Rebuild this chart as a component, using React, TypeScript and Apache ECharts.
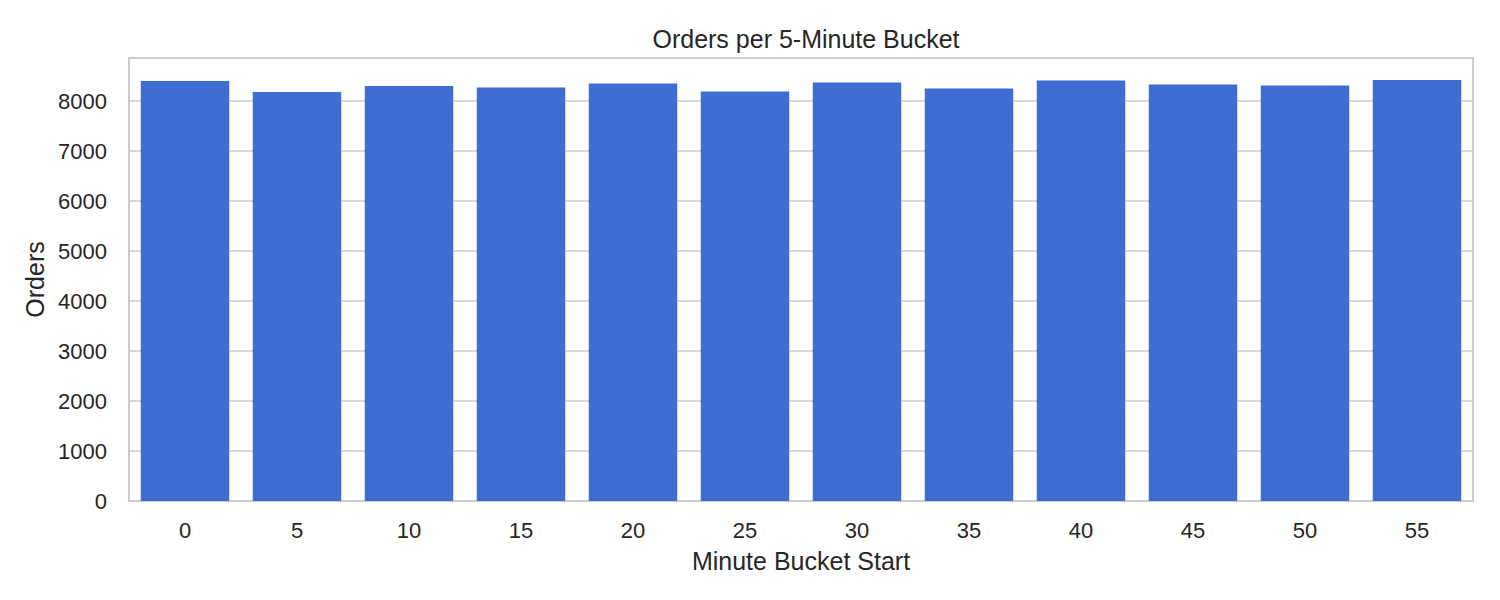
import React, { useEffect, useRef } from "react";
import * as echarts from "echarts";

const categories = ["0", "5", "10", "15", "20", "25", "30", "35", "40", "45", "50", "55"];
const orders = [8400, 8180, 8300, 8270, 8350, 8190, 8370, 8250, 8410, 8330, 8310, 8420];
const yTicks = [0, 1000, 2000, 3000, 4000, 5000, 6000, 7000, 8000];

const FONT = "'Liberation Sans', Arial, sans-serif";

export default function App() {
  const ref = useRef<HTMLDivElement>(null);
  useEffect(() => {
    if (!ref.current) return;
    const chart = echarts.init(ref.current, undefined, { renderer: "svg" });
    chart.setOption({
      animation: false,
      backgroundColor: "#ffffff",
      title: {
        text: "Orders per 5-Minute Bucket",
        left: 801,
        top: 21,
        textAlign: "center",
        textStyle: { fontFamily: FONT, fontSize: 25, fontWeight: "normal", color: "#262626" },
      },
      grid: {
        left: 129,
        right: 27,
        top: 58,
        bottom: 99,
        show: true,
        borderColor: "#cccccc",
        borderWidth: 2,
        backgroundColor: "transparent",
      },
      xAxis: {
        type: "category",
        data: categories,
        name: "Minute Bucket Start",
        nameLocation: "middle",
        nameGap: 47,
        nameTextStyle: { fontFamily: FONT, fontSize: 25, color: "#262626" },
        axisLine: { show: true, lineStyle: { color: "#cccccc", width: 2 } },
        axisTick: { show: false },
        axisLabel: { fontFamily: FONT, fontSize: 22, color: "#262626", margin: 18 },
        splitLine: { show: false },
      },
      yAxis: {
        type: "value",
        min: 0,
        max: 8860,
        interval: 1000,
        name: "Orders",
        nameLocation: "middle",
        nameGap: 80,
        nameTextStyle: { fontFamily: FONT, fontSize: 25, color: "#262626" },
        axisLine: { show: true, lineStyle: { color: "#cccccc", width: 2 } },
        axisTick: { show: false },
        axisLabel: {
          fontFamily: FONT,
          fontSize: 22,
          color: "#262626",
          margin: 22,
          formatter: (v: number) => (yTicks.includes(v) ? String(v) : ""),
        },
        splitLine: { show: true, lineStyle: { color: "#cccccc", width: 1.5 } },
      },
      series: [
        {
          type: "bar",
          data: orders,
          barCategoryGap: "21%",
          itemStyle: { color: "#3f6dd4" },
        },
      ],
    });
    return () => chart.dispose();
  }, []);
  return (
    <div
      ref={ref}
      style={{ position: "fixed", left: 0, top: 0, width: 1500, height: 600 }}
    />
  );
}
